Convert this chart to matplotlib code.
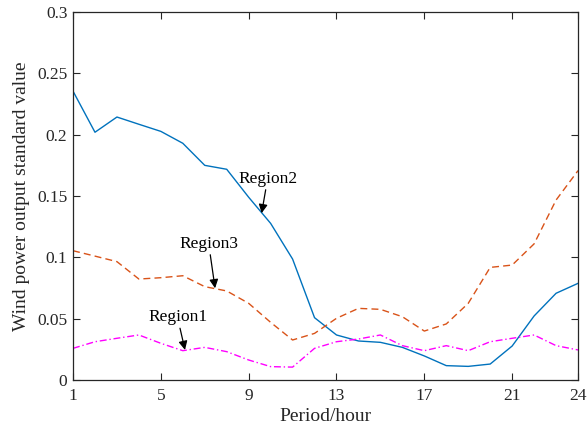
import numpy as np
import matplotlib.pyplot as plt
from matplotlib.ticker import FormatStrFormatter

# hourly standard deviation of wind output per region
hours = np.arange(1, 25)
region1 = [0.0258, 0.0312, 0.034, 0.0367, 0.0299, 0.0239, 0.0266, 0.0231, 0.0163, 0.0109,
           0.0105, 0.0258, 0.0312, 0.0334, 0.0367, 0.028, 0.0239, 0.028, 0.0239, 0.0312,
           0.034, 0.0367, 0.028, 0.0245]
region2 = [0.2355, 0.202, 0.2144, 0.2085, 0.2027, 0.193, 0.175, 0.1718, 0.149, 0.1277,
           0.0986, 0.0508, 0.0367, 0.0318, 0.0307, 0.0266, 0.0196, 0.0117, 0.0111, 0.013,
           0.0277, 0.0522, 0.0707, 0.0788]
region3 = [0.1054, 0.101, 0.0965, 0.0823, 0.0834, 0.085, 0.0761, 0.0726, 0.0625, 0.047,
           0.0326, 0.038, 0.0503, 0.0584, 0.0576, 0.0516, 0.0399, 0.0457, 0.0625, 0.0918,
           0.0937, 0.111, 0.1467, 0.1707]
xticks = [1, 5, 9, 13, 17, 21, 24]

plt.rcParams['font.family'] = ['Liberation Serif', 'DejaVu Serif']

fig = plt.figure(figsize=(5.87, 4.30), dpi=100)
ax = fig.add_axes([0.1244, 0.1163, 0.8603, 0.8557])

ax.plot(hours, region2, color='#0072BD', lw=1.0, ls='-')
ax.plot(hours, region3, color='#D95319', lw=1.0, ls=(0, (5, 3)))
ax.plot(hours, region1, color='#FF00FF', lw=1.0, ls=(0, (5, 2, 1, 2)))

arrow = dict(arrowstyle='-|>', color='k', lw=0.9, mutation_scale=13, shrinkA=0, shrinkB=0)
ax.annotate('Region2', xy=(9.59, 0.136), xytext=(9.86, 0.1639), ha='center', va='center',
            fontsize=12.5, arrowprops=arrow)
ax.annotate('Region3', xy=(7.47, 0.0748), xytext=(7.18, 0.1109), ha='center', va='center',
            fontsize=12.5, arrowprops=arrow)
ax.annotate('Region1', xy=(6.10, 0.0245), xytext=(5.76, 0.051), ha='center', va='center',
            fontsize=12.5, arrowprops=arrow)

ax.set_xlim(1, 24)
ax.set_ylim(0, 0.3)
ax.set_xticks(xticks)
ax.set_yticks(np.arange(0, 0.31, 0.05))
ax.yaxis.set_major_formatter(FormatStrFormatter('%g'))
ax.tick_params(direction='in', top=True, right=True, labelsize=12.5, colors='#262626',
               length=5, width=0.8)
ax.tick_params(axis='x', pad=6)
ax.tick_params(axis='y', pad=4)
for s in ax.spines.values():
    s.set_linewidth(0.9)
    s.set_color('#262626')

ax.set_xlabel('Period/hour', fontsize=14, color='#262626', labelpad=3)
ax.set_ylabel('Wind power output standard value', fontsize=14, color='#262626', labelpad=5)

fig.savefig('out.png', dpi=100)
